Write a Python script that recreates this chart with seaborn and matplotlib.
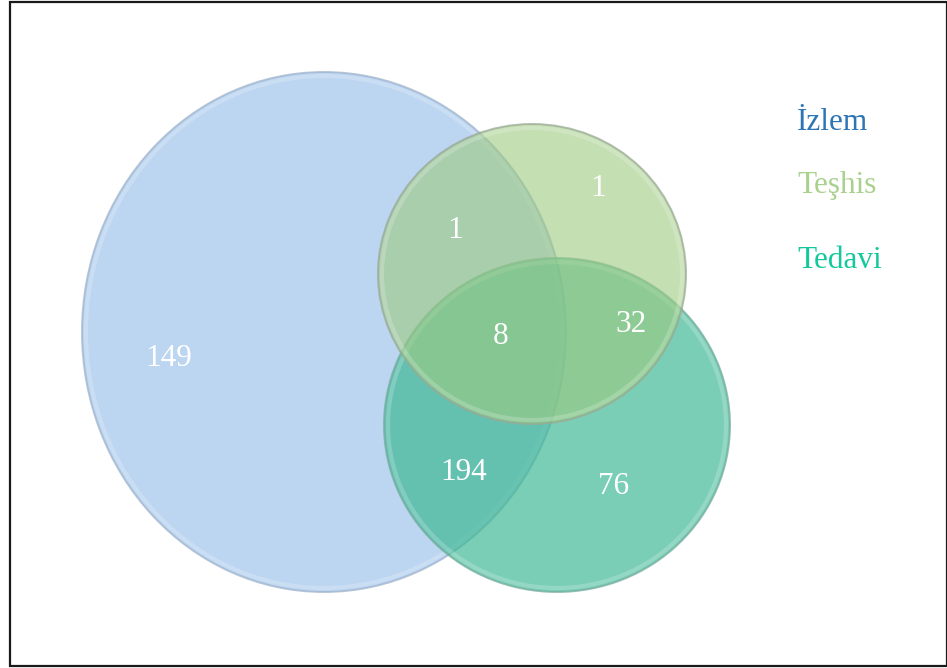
import matplotlib
matplotlib.use("Agg")
import matplotlib.pyplot as plt
from matplotlib.patches import Ellipse, Rectangle
import seaborn as sns

# ---- data ----
set_names = ["İzlem", "Teşhis", "Tedavi"]
region_names = ["İzlem", "İzlem∩Teşhis", "Teşhis", "İzlem∩Teşhis∩Tedavi",
                "Teşhis∩Tedavi", "İzlem∩Tedavi", "Tedavi"]
region_counts = [149, 1, 1, 8, 32, 194, 76]

# ---- style / layout ----
sns.set_theme(style="white")
plt.rcParams["font.family"] = ["Liberation Serif", "DejaVu Serif"]

legend_colors = ["#2E75B6", "#A9D18E", "#12C99B"]
fill_colors = ["#BCD5F1", "#9DCA7F", "#3BB892"]
fill_alphas = [1.0, 0.6, 0.68]
edge_colors = ["#9FB3CB", "#9AA896", "#74AC9E"]
# ellipse geometry in pixel space (cx, cy, width, height)
shapes = [(324, 332, 484, 520), (532, 274, 308, 300), (557, 425, 346, 334)]
draw_order = [0, 2, 1]
label_pos = [(169, 358), (455, 230), (598, 188), (501, 337),
             (631, 325), (464, 473), (614, 486)]
legend_pos = [(797, 123), (797, 185), (797, 260)]

W, H = 947, 668
fig = plt.figure(figsize=(W / 100, H / 100), dpi=100)
ax = fig.add_axes([0, 0, 1, 1])
ax.set_xlim(0, W)
ax.set_ylim(H, 0)
ax.axis("off")

for z, i in enumerate(draw_order):
    cx, cy, w, h = shapes[i]
    zz = 2 + z
    ax.add_patch(Ellipse((cx, cy), w, h, facecolor=fill_colors[i],
                         alpha=fill_alphas[i], edgecolor="none", zorder=zz))
    # soft inner highlight ring
    ax.add_patch(Ellipse((cx, cy), w - 8, h - 8, facecolor="none",
                         edgecolor="white", lw=3, alpha=0.2, zorder=zz))
    ax.add_patch(Ellipse((cx, cy), w, h, facecolor="none",
                         edgecolor=edge_colors[i], lw=1.4, alpha=0.75, zorder=zz))

for (x, y), n in zip(label_pos, region_counts):
    ax.text(x, y, str(n), color="white", fontsize=22.5, ha="center",
            va="center", zorder=10)

for (x, y), name, c in zip(legend_pos, set_names, legend_colors):
    ax.text(x, y, name, color=c, fontsize=22.5, ha="left", va="center", zorder=10)

ax.add_patch(Rectangle((9.5, 1.5), W - 10, H - 4, facecolor="none",
                       edgecolor="#1a1a1a", lw=1.6, zorder=20, clip_on=False))

fig.savefig("out.png", dpi=100)
